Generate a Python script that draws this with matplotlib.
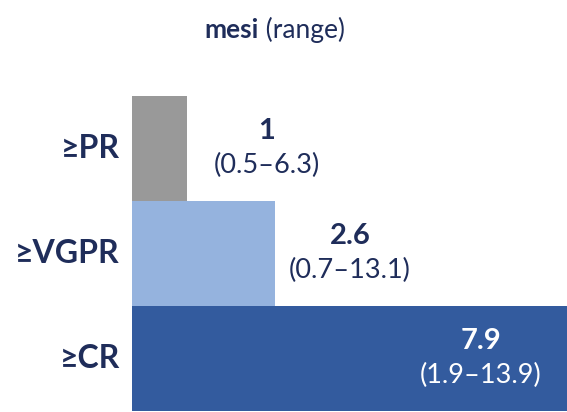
import matplotlib.pyplot as plt

categories = ['≥PR', '≥VGPR', '≥CR']
medians = [1, 2.6, 7.9]
ranges = ['(0.5–6.3)', '(0.7–13.1)', '(1.9–13.9)']
colors = ['#999999', '#95B3DE', '#335B9E']

navy = '#1F2D5A'
plt.rcParams['font.family'] = ['Lato', 'DejaVu Sans']

fig = plt.figure(figsize=(5.67, 4.12), dpi=100)
W, H = 567, 412
ax = fig.add_axes([132 / W, 1 / H, (567 - 132) / W, (411 - 96) / H])

y = range(len(categories))
ax.barh(y, medians, height=1.0, color=colors, left=0)
ax.set_xlim(0, 7.9)
ax.set_ylim(len(categories) - 0.5, -0.5)
ax.axis('off')

# category labels to the left of the bars
for i, cat in enumerate(categories):
    ax.text(-0.22, i, cat, ha='right', va='center', fontsize=23,
            fontweight='bold', color=navy)

# median + range labels: outside for short bars, inside for the long one
label_x = [2.45, 3.96, 6.33]
for i, (m, r) in enumerate(zip(medians, ranges)):
    c = 'white' if m > 5 else navy
    ax.text(label_x[i], i - 0.17, f'{m:g}', ha='center', va='center',
            fontsize=21, fontweight='bold', color=c)
    ax.text(label_x[i], i + 0.16, r, ha='center', va='center',
            fontsize=19.5, color=c)

fig.text(259 / W, 1 - 30 / H, 'mesi', ha='right', va='center', fontsize=19,
         fontweight='bold', color=navy)
fig.text(259 / W, 1 - 30 / H, ' (range)', ha='left', va='center', fontsize=19,
         color=navy)

fig.savefig('out.png', dpi=100)
